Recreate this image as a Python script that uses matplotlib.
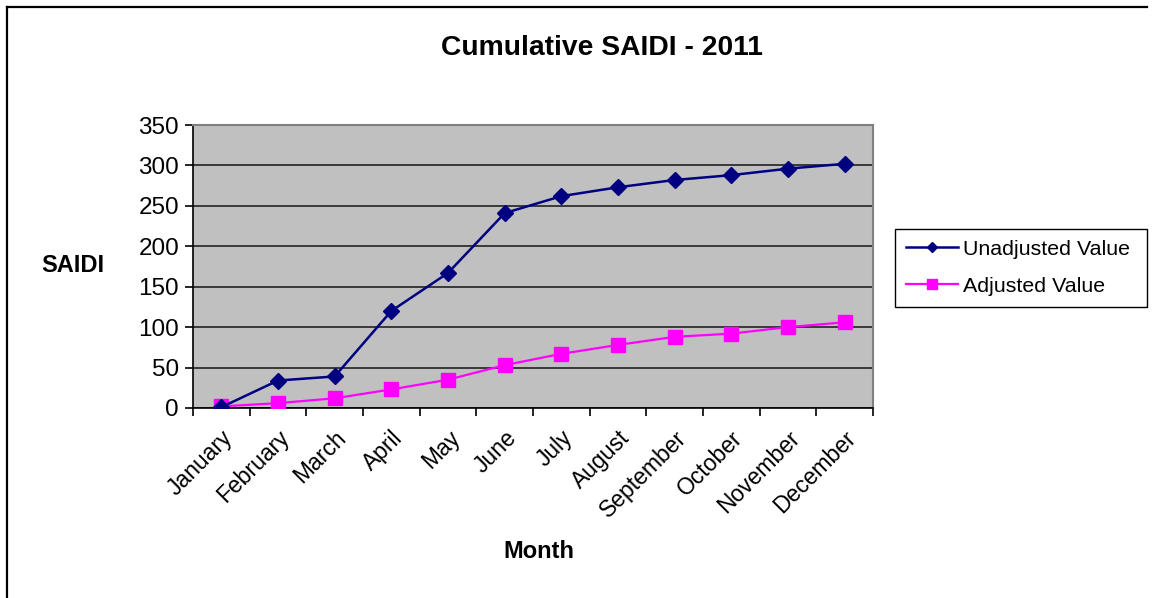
import matplotlib.pyplot as plt
from matplotlib.lines import Line2D

plt.rcParams['font.family'] = ['Liberation Sans', 'DejaVu Sans']

# cumulative SAIDI per month, 2011
mesi = ['January', 'February', 'March', 'April', 'May', 'June', 'July',
        'August', 'September', 'October', 'November', 'December']
non_corretto = [1, 34, 39, 120, 167, 241, 262, 273, 282, 288, 296, 302]
corretto = [2, 6, 12, 23, 35, 53, 67, 78, 88, 92, 100, 106]

W, H = 1153, 598
fig = plt.figure(figsize=(W / 100, H / 100), dpi=100)
ax = fig.add_axes([193 / W, 1 - 408 / H, (873 - 193) / W, (408 - 125) / H])
ax.set_facecolor('#C0C0C0')

x = list(range(len(mesi)))
ax.plot(x, non_corretto, color='#000080', lw=1.8, marker='D', markersize=8.5,
        label='Unadjusted Value', zorder=4)
ax.plot(x, corretto, color='#FF00FF', lw=1.6, marker='s', markersize=10.5,
        label='Adjusted Value', zorder=3)

ax.set_ylim(0, 350)
ax.set_yticks(range(0, 351, 50))
ax.set_xlim(-0.5, len(mesi) - 0.5)
# ticks on the category borders, labels in the middle
ax.set_xticks([i - 0.5 for i in range(len(mesi) + 1)])
ax.set_xticklabels([])
ax.set_xticks(x, minor=True)
ax.set_xticklabels(mesi, minor=True, rotation=45, ha='right', va='top',
                   rotation_mode='anchor', fontsize=16.5)
ax.tick_params(axis='x', which='minor', length=0, pad=13)
ax.tick_params(axis='x', which='major', length=6, width=1.2, color='black')
ax.tick_params(axis='y', length=6, width=1.2, labelsize=17.5, pad=4)

ax.yaxis.grid(True, color='#222222', lw=1.2)
ax.set_axisbelow(True)
for lato in ['top', 'right']:
    ax.spines[lato].set_color('#808080')
    ax.spines[lato].set_linewidth(1.5)
for lato in ['left', 'bottom']:
    ax.spines[lato].set_color('black')
    ax.spines[lato].set_linewidth(1.2)

fig.text(602 / W, 1 - 48 / H, 'Cumulative SAIDI - 2011', fontsize=20.3,
         fontweight='bold', ha='center', va='center')
fig.text(73 / W, 1 - 266 / H, 'SAIDI', fontsize=17, fontweight='bold',
         ha='center', va='center')
fig.text(539 / W, 1 - 551 / H, 'Month', fontsize=17, fontweight='bold',
         ha='center', va='center')

leg = ax.legend(loc='upper left', bbox_to_anchor=(895 / W, 1 - 307 / H, 252 / W, 78 / H),
                bbox_transform=fig.transFigure, mode='expand', borderaxespad=0,
                fontsize=15.4, frameon=True, fancybox=False, edgecolor='black',
                framealpha=1, handlelength=2.45, handletextpad=0.25, borderpad=0.5,
                labelspacing=0.85, markerscale=0.65)
leg.get_frame().set_linewidth(1.0)

# chart border
fig.add_artist(Line2D([7 / W, 7 / W], [0, 1 - 7 / H], color='black', lw=1.6))
fig.add_artist(Line2D([7 / W, 1147 / W], [1 - 7 / H, 1 - 7 / H], color='black', lw=1.6))

fig.savefig('out.png', dpi=100)
